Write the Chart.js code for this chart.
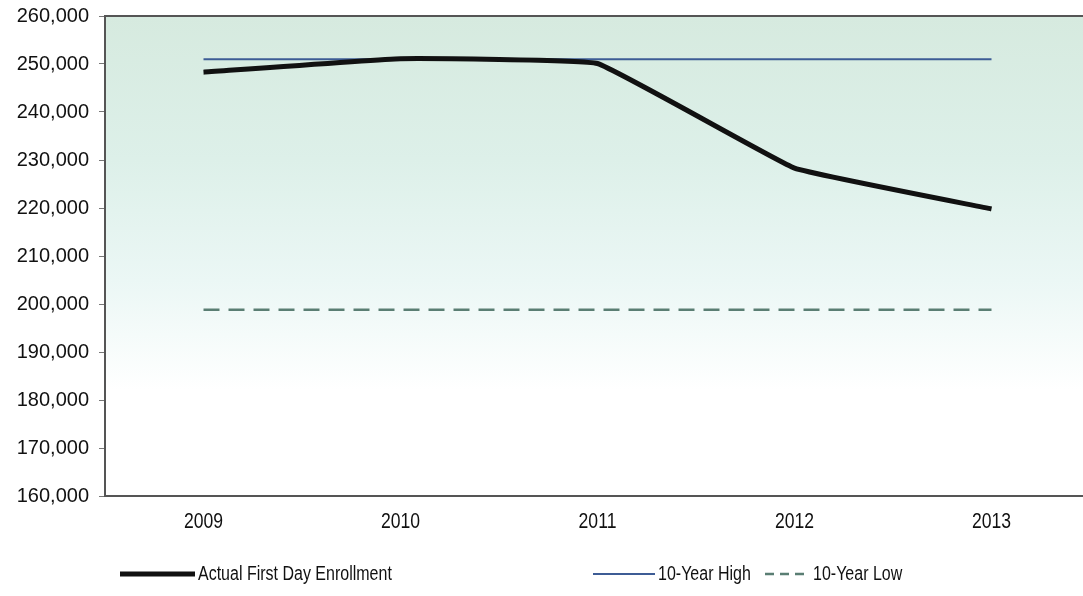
<!DOCTYPE html>
<html>
<head>
<meta charset="utf-8">
<script src="https://cdn.jsdelivr.net/npm/chart.js@4.4.0/dist/chart.umd.min.js"></script>
<style>
  html, body { margin: 0; padding: 0; background: #fff; overflow: hidden; }
  #wrap { width: 1092px; height: 596px; position: relative; }
</style>
</head>
<body>
<div id="wrap"><canvas id="enrollChart"></canvas></div>
<script>
// anos e valores
const years = ['2009', '2010', '2011', '2012', '2013'];
const actualEnrollment = [248300, 251100, 250100, 228300, 219800];
const tenYearHigh = [251000, 251000, 251000, 251000, 251000];
const tenYearLow = [198800, 198800, 198800, 198800, 198800];
const yTicks = [160000, 170000, 180000, 190000, 200000, 210000, 220000, 230000, 240000, 250000, 260000];

const sans = "'Liberation Sans', Arial, sans-serif";

// texto "estreito" (não há Arial Narrow instalada, então comprime na horizontal)
function narrowText(ctx, text, x, y, size, align) {
  ctx.save();
  ctx.font = size + 'px ' + sans;
  ctx.textBaseline = 'middle';
  ctx.fillStyle = '#111';
  const squeeze = 0.8;
  const w = ctx.measureText(text).width * squeeze;
  const startX = align === 'center' ? x - w / 2 : x;
  ctx.translate(startX, y);
  ctx.scale(squeeze, 1);
  ctx.textAlign = 'left';
  ctx.fillText(text, 0, 0);
  ctx.restore();
}

// fundo em degradê e borda superior da área do gráfico
const plotBg = {
  id: 'plotBg',
  beforeDraw(chart) {
    const { ctx, chartArea: a } = chart;
    const g = ctx.createLinearGradient(0, a.top, 0, a.bottom);
    g.addColorStop(0, '#d6eadf');
    g.addColorStop(0.3, '#ddf0e9');
    g.addColorStop(0.55, '#ebf7f5');
    g.addColorStop(0.78, '#ffffff');
    g.addColorStop(1, '#ffffff');
    ctx.save();
    ctx.fillStyle = g;
    ctx.fillRect(a.left, a.top, a.right - a.left, a.bottom - a.top);
    ctx.restore();
  },
  afterDraw(chart) {
    const { ctx, chartArea: a } = chart;
    ctx.save();
    ctx.strokeStyle = '#555';
    ctx.lineWidth = 2;
    ctx.beginPath();
    ctx.moveTo(a.left, a.top);
    ctx.lineTo(a.right, a.top);
    ctx.stroke();
    ctx.restore();
    // rótulos do eixo x, posicionados pela escala
    const xs = chart.scales.x;
    chart.data.labels.forEach((lab, i) => {
      narrowText(ctx, lab, xs.getPixelForTick(i), a.bottom + 26, 22, 'center');
    });
  }
};

// legenda desenhada à mão (espaçamento igual ao original)
const legendSpots = [
  { lineX: 120, lineW: 75 },
  { lineX: 593, lineW: 62 },
  { lineX: 765, lineW: 45 }
];
const customLegend = {
  id: 'customLegend',
  afterDraw(chart) {
    const { ctx } = chart;
    const y = 574;
    chart.data.datasets.forEach((ds, i) => {
      const spot = legendSpots[i];
      ctx.save();
      ctx.strokeStyle = ds.borderColor;
      ctx.lineWidth = ds.borderWidth;
      ctx.setLineDash(ds.borderDash ? [9, 6] : []);
      ctx.beginPath();
      ctx.moveTo(spot.lineX, y);
      ctx.lineTo(spot.lineX + spot.lineW, y);
      ctx.stroke();
      ctx.restore();
      narrowText(ctx, ds.label, spot.lineX + spot.lineW + 3, y, 20, 'left');
    });
  }
};

new Chart(document.getElementById('enrollChart'), {
  type: 'line',
  data: {
    labels: years,
    datasets: [
      {
        label: 'Actual First Day Enrollment',
        data: actualEnrollment,
        borderColor: '#111111',
        borderWidth: 5,
        pointRadius: 0,
        tension: 0.08,
        fill: false
      },
      {
        label: '10-Year High',
        data: tenYearHigh,
        borderColor: '#3d5c95',
        borderWidth: 2,
        pointRadius: 0,
        fill: false
      },
      {
        label: '10-Year Low',
        data: tenYearLow,
        borderColor: '#5a7e73',
        borderWidth: 2.5,
        borderDash: [16, 9],
        pointRadius: 0,
        fill: false
      }
    ]
  },
  options: {
    responsive: true,
    maintainAspectRatio: false,
    animation: false,
    layout: { padding: { top: 16, right: 2, bottom: 60, left: 0 } },
    plugins: {
      legend: { display: false },
      tooltip: { enabled: false }
    },
    scales: {
      x: {
        offset: true,
        grid: { display: true, drawOnChartArea: false, drawTicks: false },
        border: { display: true, color: '#555', width: 2 },
        ticks: { display: false },
        afterFit(scale) { scale.height = 40; }
      },
      y: {
        min: 160000,
        max: 260000,
        afterBuildTicks(scale) { scale.ticks = yTicks.map(v => ({ value: v })); },
        grid: { display: true, drawOnChartArea: false, drawTicks: true, tickLength: 6, color: '#777' },
        border: { display: true, color: '#555', width: 2 },
        ticks: {
          color: '#111',
          font: { family: sans, size: 20 },
          padding: 10,
          callback: v => v.toLocaleString('en-US')
        },
        afterFit(scale) {
          scale.width = 105;
          scale.paddingTop = 0;
          scale.paddingBottom = 0;
        }
      }
    }
  },
  plugins: [plotBg, customLegend]
});
</script>
</body>
</html>
